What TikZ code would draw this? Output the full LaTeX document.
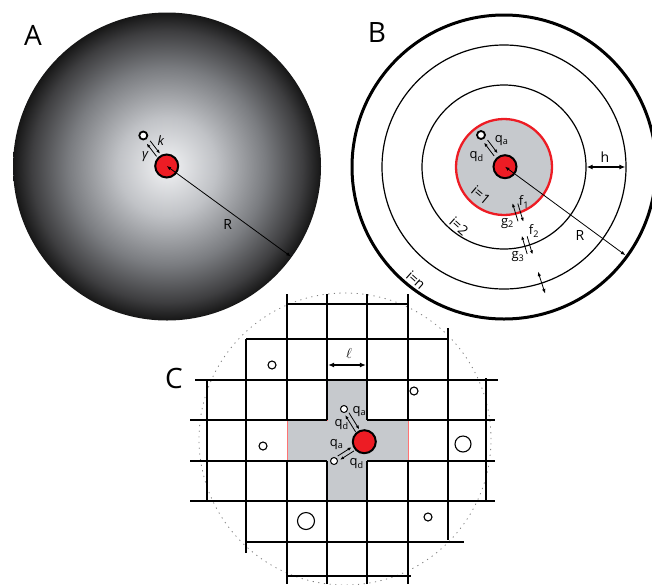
\documentclass[tikz,border=0pt]{standalone}
\usepackage{fontspec}
\setmainfont{Open Sans}
\usetikzlibrary{arrows.meta,calc}

\definecolor{dotred}{RGB}{237,28,36}
\definecolor{cellgray}{RGB}{198,201,205}
\definecolor{glowa}{RGB}{242,243,245}
\definecolor{glowb}{RGB}{192,194,198}
\definecolor{glowc}{RGB}{122,124,128}
\definecolor{glowd}{RGB}{62,62,64}
\definecolor{glowe}{RGB}{22,22,22}
\pgfdeclareradialshading{cellglow}{\pgfpoint{0bp}{0bp}}{color(0bp)=(glowa); color(8bp)=(glowb); color(16bp)=(glowc); color(22bp)=(glowd); color(25bp)=(glowe); color(50bp)=(glowe)}

\tikzset{
  panel/.style={font=\fontsize{28}{30}\selectfont, inner sep=0pt},
  lab/.style={font=\fontsize{13}{15}\selectfont, inner sep=0pt},
  ringlab/.style={font=\fontsize{14}{16}\selectfont, inner sep=0pt},
  cell/.style={circle, draw=black, line width=2pt, fill=dotred, inner sep=0pt, minimum size=23pt},
  site/.style={circle, draw=black, line width=1.8pt, fill=white, inner sep=0pt, minimum size=8pt},
  hole/.style={circle, draw=black, line width=1.1pt, fill=white, inner sep=0pt},
  ring/.style={draw=black, line width=1.2pt},
  gline/.style={draw=black, line width=2.2pt},
  ar/.style={-{Latex[length=4pt,width=3.2pt]}, line width=0.8pt},
  dar/.style={{Latex[length=4.5pt,width=3.6pt]}-{Latex[length=4.5pt,width=3.6pt]}, line width=0.8pt},
  wdar/.style={{Latex[length=6pt,width=5pt]}-{Latex[length=6pt,width=5pt]}, line width=1.4pt},
}

\begin{document}
\begin{tikzpicture}[x=1pt, y=-1pt]
\useasboundingbox (0,0) rectangle (652,584);

% ---------------- A: well mixed cell ----------------
\coordinate (cA) at (167,166.5);
\shade[shading=cellglow] (cA) circle[radius=154pt];
\node[cell] (rA) at (166.7,166) {};
\node[site] (wA) at (143.3,135.5) {};
\coordinate (edgeA) at ($(cA)+(36:153)$);
\draw[dar] (rA.center) -- (edgeA);
\node[lab] (kA) at (161,141) {\textit{k}};
\node[lab] (gA) at (145.5,157) {\textit{γ}};
\node[lab, font=\fontsize{14}{16}\selectfont] (RA) at (227.7,224.3) {R};
\node[panel] (pA) at (33,35) {A};

% ---------------- B: concentric shells ----------------
\coordinate (cB) at (504,167);
\draw[line width=3pt] (cB) circle[radius=152pt];
\draw[ring] (cB) circle[radius=122pt];
\draw[ring] (cB) circle[radius=82pt];
\draw[draw=dotred, line width=2.3pt, fill=cellgray] (cB) circle[radius=48pt];
\node[cell] (rB) at (505,166.7) {};
\node[site] (wB) at (481,135) {};
\coordinate (edgeB) at ($(cB)+(36:150)$);
\draw[dar] (rB.center) -- (edgeB);
\draw[wdar] ($(cB)+(82.6,0)$) -- ($(cB)+(121.4,0)$);

% exchange between shells
\draw[ar] ($(cB)+(73:56)+(163:2.5)$) -- ($(cB)+(73:37)+(163:2.5)$);
\draw[ar] ($(cB)+(73:39)+(-17:2.5)$) -- ($(cB)+(73:58)+(-17:2.5)$);
\draw[ar] ($(cB)+(73.5:90)+(163.5:2.5)$) -- ($(cB)+(73.5:71)+(163.5:2.5)$);
\draw[ar] ($(cB)+(73.5:73)+(-16.5:2.5)$) -- ($(cB)+(73.5:92)+(-16.5:2.5)$);
\draw[dar] ($(cB)+(72:110)$) -- ($(cB)+(72:133)$);

\node[lab] (qaB) at (501.7,140.7) {q\textsubscript{a}};
\node[lab] (qdB) at (476.7,156.7) {q\textsubscript{d}};
\node[lab] (f1) at (524,202) {f\textsubscript{1}};
\node[lab] (g2) at (507.5,223.5) {g\textsubscript{2}};
\node[lab] (f2) at (534,231) {f\textsubscript{2}};
\node[lab] (g3) at (518,257) {g\textsubscript{3}};
\node[lab, font=\fontsize{14}{16}\selectfont] (hB) at (605,156.7) {h};
\node[lab, font=\fontsize{14}{16}\selectfont] (RB) at (580,235) {R};
\node[ringlab, rotate=-40] (i1) at (481,195) {i=1};
\node[ringlab, rotate=-42] (i2) at (459,226) {i=2};
\node[ringlab, rotate=-42] (in) at (416,280) {i=n};
\node[panel] (pB) at (377,33) {B};

% ---------------- C: lattice ----------------
\draw[gray, line width=0.8pt, dash pattern=on 1.2pt off 4.5pt] (345,439) circle[radius=146pt];
\filldraw[fill=cellgray, draw=red!55, line width=1pt]
  (327,380) -| (367,420) -| (408,461) -| (367,501) -| (327,461) -| (287,420) -| cycle;
\foreach \y/\xa/\xb in {304/287/408, 339/246/449, 380/195/498, 420/190/327, 420/367/495,
                        461/190/327, 461/367/495, 501/190/495, 542/246/464, 576/287/411}
  \draw[gline] (\xa,\y) -- (\xb,\y);
\foreach \x/\ya/\yb in {207/380/501, 246/339/553, 287/294/420, 287/461/584, 327/294/420,
                        327/461/584, 367/294/420, 367/461/584, 408/294/420, 408/461/584,
                        448/328/540, 486/378/501}
  \draw[gline] (\x,\ya) -- (\x,\yb);

\foreach \x/\y/\d [count=\i] in {272/365/8, 414/391/8, 263/446/8, 463/444/16, 306/521/17, 428/517/8}
  \node[hole, minimum size=\d pt] (hC\i) at (\x,\y) {};
\node[cell] (rC) at (364.3,441.7) {};
\node[hole, line width=1pt, minimum size=7pt] (wC1) at (344,409) {};
\node[hole, line width=1pt, minimum size=7pt] (wC2) at (334,461) {};

\coordinate (lL) at (328.1,365);
\coordinate (lR) at (365.9,365);
\draw[wdar] (lL) -- (lR);
\node[lab, font=\fontsize{15}{17}\selectfont] (ell) at (349,353) {$\ell$};

\node[lab] (qaC1) at (359.3,411.7) {q\textsubscript{a}};
\node[lab] (qdC1) at (341.7,425) {q\textsubscript{d}};
\node[lab] (qaC2) at (336.7,445) {q\textsubscript{a}};
\node[lab] (qdC2) at (356.7,463.3) {q\textsubscript{d}};
\node[panel] (pC) at (174,378) {C};

% binding / unbinding arrows
\foreach \w/\c/\s/\e in {wA/rA/0.22/0.64, wB/rB/0.2/0.62, wC1/rC/0.15/0.66, wC2/rC/0.16/0.62}{
  \draw[ar] ($(\w)!\s!(\c)!2.2pt!90:(\c)$) -- ($(\w)!\e!(\c)!2.2pt!90:(\c)$);
  \draw[ar] ($(\w)!\e!(\c)!2.2pt!-90:(\c)$) -- ($(\w)!\s!(\c)!2.2pt!-90:(\c)$);
}

\end{tikzpicture}
\end{document}
